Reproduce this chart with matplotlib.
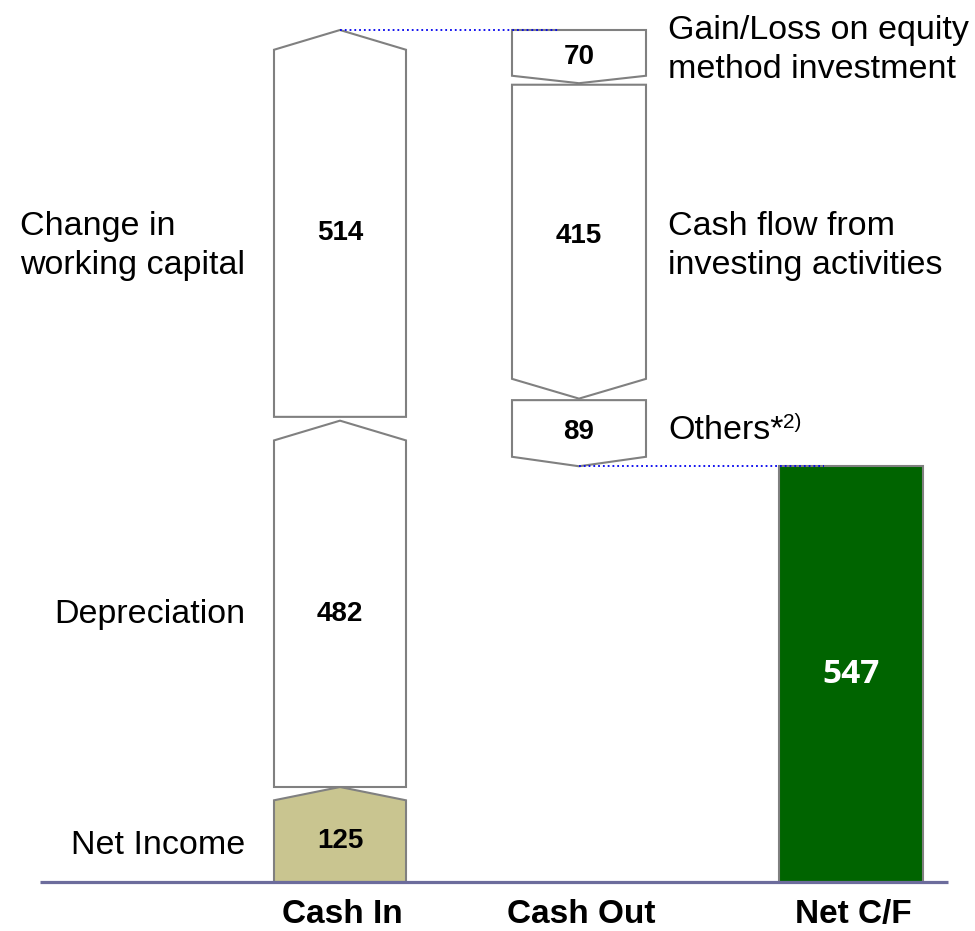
import matplotlib.pyplot as plt
from matplotlib.patches import Polygon

# values
categories = ['Cash In', 'Cash Out', 'Net C/F']
in_labels = ['Net Income', 'Depreciation', 'Change in\nworking capital']
in_values = [125, 482, 514]
out_labels = ['Gain/Loss on equity\nmethod investment', 'Cash flow from\ninvesting activities', 'Others*']
out_values = [70, 415, 89]
net_value = 547

plt.rcParams['font.family'] = ['Liberation Sans', 'DejaVu Sans']

fig = plt.figure(figsize=(9.75, 9.31), dpi=100)
ax = fig.add_axes([0, 0, 1, 1])
ax.axis('off')

# pixel-like x layout, value units on y
total = sum(in_values)
scale = 852 / total  # px per unit
ax.set_xlim(0, 975)
ax.set_ylim(-49 / scale, (931 - 49) / scale)

col_x = [340, 579, 851]
col_w = [132, 134, 144]
edge = '#808080'

# where the side labels sit (pixels from top of image)
in_lab_px = [845, 615, 246]
out_lab_px = [50, 246, 430]


def px2y(p):
    return (882 - p) / scale


def tip_of(v):
    return min(26, 0.14 * v)


# cash in: arrows pointing up
x0, x1 = col_x[0] - col_w[0] / 2, col_x[0] + col_w[0] / 2
cum = 0
for i, (lab, v) in enumerate(zip(in_labels, in_values)):
    b = cum + (5 if i == 2 else 0)
    t = cum + v
    tp = tip_of(v)
    pts = [(x0, b), (x1, b), (x1, t - tp), (col_x[0], t), (x0, t - tp)]
    fc = '#C9C590' if i == 0 else 'white'
    ax.add_patch(Polygon(pts, closed=True, facecolor=fc, edgecolor=edge, lw=1.5))
    mid = (b + t - tp) / 2
    ax.text(col_x[0], mid, str(v), ha='center', va='center', fontsize=20, fontweight='bold')
    ax.text(245, px2y(in_lab_px[i]), lab, ha='right', va='center', multialignment='left',
            fontsize=24.5, linespacing=1.34)
    cum = t

# cash out: arrows pointing down
x0, x1 = col_x[1] - col_w[1] / 2, col_x[1] + col_w[1] / 2
cum = total
out_texts = []
for i, (lab, v) in enumerate(zip(out_labels, out_values)):
    t = cum - (2 if i > 0 else 0)
    b = cum - v
    tp = tip_of(v)
    pts = [(x0, t), (x1, t), (x1, b + tp), (col_x[1], b), (x0, b + tp)]
    ax.add_patch(Polygon(pts, closed=True, facecolor='white', edgecolor=edge, lw=1.5))
    mid = (b + tp + t) / 2
    ax.text(col_x[1], mid - 5, str(v), ha='center', va='center', fontsize=20, fontweight='bold')
    out_texts.append(ax.text(668, px2y(out_lab_px[i]), lab, ha='left', va='center',
                             fontsize=24.5, linespacing=1.34))
    cum = b

# superscript on "Others*"
ax.annotate('2)', xy=(1, 0.75), xycoords=out_texts[-1], ha='left', va='center', fontsize=15)

# net cash flow bar
ax.bar(col_x[2], net_value, width=col_w[2], bottom=0, color='#006400', edgecolor=edge, lw=1.5)
ax.text(col_x[2], net_value / 2, str(net_value), ha='center', va='center', color='white',
        fontsize=24, fontweight='bold', family=['Open Sans', 'DejaVu Sans'])

# dotted connectors
ax.plot([col_x[0], 558], [total, total], color='#0000EE', ls=':', lw=1.3)
ax.plot([col_x[1], 824], [cum, cum], color='#0000EE', ls=':', lw=1.3)

# baseline
ax.plot([40, 948], [0, 0], color='#6C6C9C', lw=2.3, solid_capstyle='butt')

# category labels
for x, c in zip(col_x, categories):
    ax.text(x + 2, -43, c, ha='center', va='center', fontsize=24, fontweight='bold')

plt.savefig('out.png')
